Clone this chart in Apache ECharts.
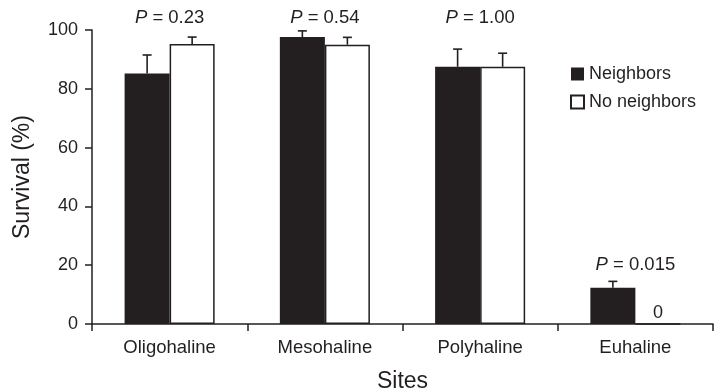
<!DOCTYPE html>
<html>
<head>
<meta charset="utf-8">
<script src="https://cdn.jsdelivr.net/npm/echarts@6/dist/echarts.min.js"></script>
<style>
html,body{margin:0;padding:0;background:#fff;}
#chart{width:716px;height:391px;}
</style>
</head>
<body>
<div id="chart"></div>
<script>
const categories = ['Oligohaline', 'Mesohaline', 'Polyhaline', 'Euhaline'];
const neighbors = [85.2, 97.6, 87.5, 12.3];
const neighborsUpper = [91.5, 99.7, 93.5, 14.5];
const noNeighbors = [95.2, 95.0, 87.5, 0];
const noNeighborsUpper = [97.6, 97.5, 92.1, null];
const pValues = ['0.23', '0.54', '1.00', '0.015'];
const pLabelAt = [104, 104, 104, 20];
const yTicks = [0, 20, 40, 60, 80, 100];

const INK = '#231f20';
const FONT = '"Liberation Sans", Arial, Helvetica, sans-serif';
const BAR_FRAC = 0.29;

function errData(upper, vals, side) {
  return upper.map((u, i) => u == null ? null : [i, vals[i], u, side]).filter(d => d);
}

function renderErr(params, api) {
  const i = api.value(0);
  const lo = api.coord([i, api.value(1)]);
  const hi = api.coord([i, api.value(2)]);
  const side = api.value(3);
  const band = api.size([1, 0])[0];
  const x = lo[0] + side * band * BAR_FRAC / 2;
  const cap = 4.5;
  const st = { stroke: INK, lineWidth: 1.6 };
  return {
    type: 'group',
    children: [
      { type: 'line', shape: { x1: x, y1: lo[1], x2: x, y2: hi[1] }, style: st },
      { type: 'line', shape: { x1: x - cap, y1: hi[1], x2: x + cap, y2: hi[1] }, style: st }
    ]
  };
}

const pData = pValues.map((p, i) => [i, pLabelAt[i], p]);

const chart = echarts.init(document.getElementById('chart'));
chart.setOption({
  animation: false,
  textStyle: { fontFamily: FONT },
  grid: { left: 92, right: 3, top: 30, bottom: 67, containLabel: false, outerBoundsMode: 'none' },
  legend: {
    orient: 'vertical',
    left: 565, top: 60,
    icon: 'rect',
    itemWidth: 13, itemHeight: 13, itemGap: 10,
    textStyle: { fontSize: 18, color: INK, fontFamily: FONT },
    data: ['Neighbors', 'No neighbors']
  },
  xAxis: {
    type: 'category',
    data: categories,
    name: 'Sites',
    nameLocation: 'middle',
    nameGap: 46,
    nameTextStyle: { fontSize: 23, color: INK, fontFamily: FONT },
    axisLine: { lineStyle: { color: INK, width: 1.5 } },
    axisTick: { show: true, length: 7, inside: false, lineStyle: { color: INK, width: 1.5 } },
    axisLabel: { fontSize: 18.5, color: INK, margin: 14, fontFamily: FONT }
  },
  yAxis: {
    type: 'value',
    min: yTicks[0], max: yTicks[yTicks.length - 1], interval: 20,
    name: 'Survival (%)',
    nameLocation: 'middle',
    nameGap: 58,
    nameTextStyle: { fontSize: 23, color: INK, fontFamily: FONT },
    axisLine: { show: true, lineStyle: { color: INK, width: 1.5 } },
    axisTick: { show: true, length: 7, lineStyle: { color: INK, width: 1.5 } },
    axisLabel: { fontSize: 18, color: INK, margin: 14, fontFamily: FONT },
    splitLine: { show: false }
  },
  series: [
    {
      name: 'Neighbors', type: 'bar', data: neighbors,
      barWidth: (BAR_FRAC * 100) + '%', barGap: '0%',
      itemStyle: { color: INK, borderColor: INK, borderWidth: 0 },
      z: 2
    },
    {
      name: 'No neighbors', type: 'bar', data: noNeighbors,
      barWidth: (BAR_FRAC * 100) + '%', barGap: '0%',
      itemStyle: { color: '#ffffff', borderColor: INK, borderWidth: 1.5 },
      label: {
        show: true, position: 'top', distance: 1,
        fontSize: 18, color: INK, fontFamily: FONT,
        formatter: p => p.value === 0 ? '0' : ''
      },
      z: 2
    },
    {
      type: 'custom', renderItem: renderErr, data: errData(neighborsUpper, neighbors, -1),
      encode: { x: 0, y: 2 }, z: 3, silent: true
    },
    {
      type: 'custom', renderItem: renderErr, data: errData(noNeighborsUpper, noNeighbors, 1),
      encode: { x: 0, y: 2 }, z: 3, silent: true
    },
    {
      type: 'custom',
      data: pData,
      encode: { x: 0, y: 1 },
      silent: true,
      renderItem: function (params, api) {
        const c = api.coord([api.value(0), api.value(1)]);
        return {
          type: 'text',
          x: c[0], y: c[1],
          style: {
            text: '{i|P} = ' + pValues[params.dataIndex],
            align: 'center', verticalAlign: 'middle',
            fontSize: 18.5, fill: INK, fontFamily: FONT,
            rich: { i: { fontStyle: 'italic', fontSize: 18.5, fontFamily: FONT, fill: INK } }
          }
        };
      }
    }
  ]
});
</script>
</body>
</html>
